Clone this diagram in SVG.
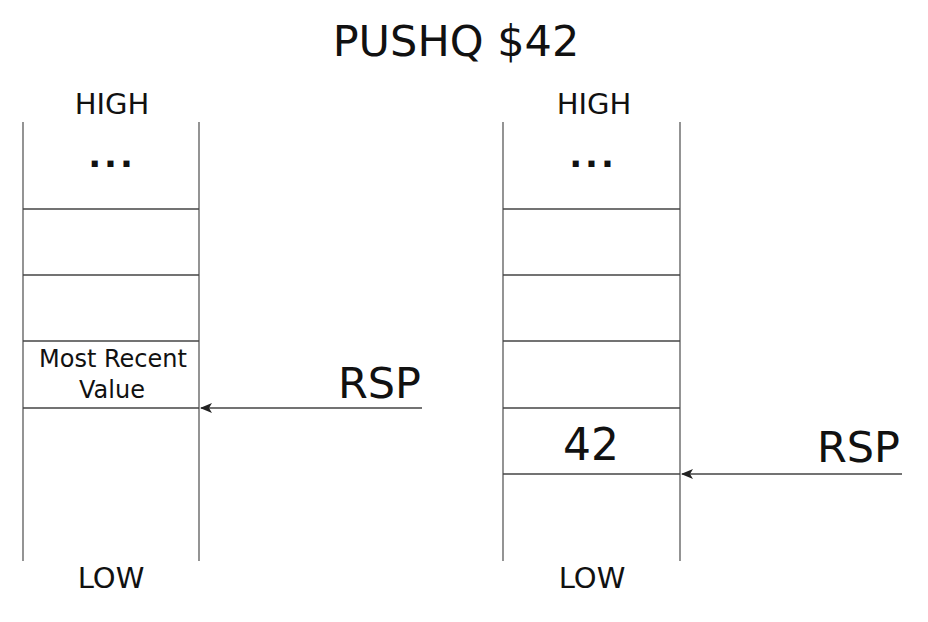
<svg xmlns="http://www.w3.org/2000/svg" width="928" height="622" viewBox="0 0 928 622">
<style>
text{font-family:"DejaVu Sans","Liberation Sans",sans-serif;fill:#111;text-anchor:middle}
.v{stroke:#666;stroke-width:1.4;fill:none}
.h{stroke:#444;stroke-width:1.4;fill:none}
.c{stroke:#444;stroke-width:1.4;fill:none;marker-end:url(#ah)}
.dots{font-size:34px;font-weight:bold;letter-spacing:3px}
</style>
<defs>
<marker id="ah" viewBox="0 0 12 10" refX="11" refY="5" markerWidth="12" markerHeight="10" markerUnits="userSpaceOnUse" orient="auto">
<path d="M0,0 L12,5 L0,10 L3,5 z" fill="#222"/>
</marker>
</defs>
<rect width="928" height="622" fill="#fff"/>
<text x="456" y="56" font-size="43">PUSHQ $42</text>
<g id="stack-left">
<line class="v" x1="23" y1="122" x2="23" y2="561"/>
<line class="v" x1="199" y1="122" x2="199" y2="561"/>
<line class="h" x1="23" y1="209" x2="199" y2="209"/>
<line class="h" x1="23" y1="275" x2="199" y2="275"/>
<line class="h" x1="23" y1="341" x2="199" y2="341"/>
<line class="h" x1="23" y1="408" x2="199" y2="408"/>
<text x="112" y="114" font-size="29">HIGH</text>
<text x="112" y="167" class="dots">...</text>
<text x="113" y="367" font-size="24">Most Recent</text>
<text x="112" y="398" font-size="24">Value</text>
<text x="111" y="588" font-size="29">LOW</text>
</g>
<g id="stack-right">
<line class="v" x1="503" y1="122" x2="503" y2="561"/>
<line class="v" x1="680" y1="122" x2="680" y2="561"/>
<line class="h" x1="503" y1="209" x2="680" y2="209"/>
<line class="h" x1="503" y1="275" x2="680" y2="275"/>
<line class="h" x1="503" y1="341" x2="680" y2="341"/>
<line class="h" x1="503" y1="408" x2="680" y2="408"/>
<line class="h" x1="503" y1="474" x2="680" y2="474"/>
<text x="594" y="114" font-size="29">HIGH</text>
<text x="593" y="167" class="dots">...</text>
<text x="591" y="460" font-size="44">42</text>
<text x="592" y="588" font-size="29">LOW</text>
</g>
<g id="rsp-left">
<text x="421" y="398" font-size="43" style="text-anchor:end">RSP</text>
</g>
<g id="rsp-right">
<text x="900" y="462" font-size="43" style="text-anchor:end">RSP</text>
</g>
<g id="connectors">
<line class="c" x1="422" y1="408" x2="201" y2="408"/>
<line class="c" x1="902" y1="474" x2="682" y2="474"/>
</g>
</svg>
